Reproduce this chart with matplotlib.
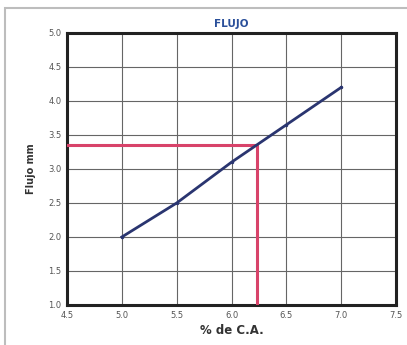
import matplotlib
matplotlib.use("Agg")
import matplotlib.pyplot as plt
from matplotlib.patches import Rectangle

ca_pct = [5.0, 5.5, 6.0, 6.5, 7.0]
flujo_mm = [2.0, 2.5, 3.1, 3.65, 4.2]
opt_ca = 6.23
opt_flujo = 3.35
x_ticks = [4.5, 5.0, 5.5, 6.0, 6.5, 7.0, 7.5]
y_ticks = [1.0, 1.5, 2.0, 2.5, 3.0, 3.5, 4.0, 4.5, 5.0]

fig = plt.figure(figsize=(4.07, 3.45), dpi=100)
fig.patches.append(Rectangle((5/407, -0.05), 1.1, 1 - 8/345 + 0.05, transform=fig.transFigure,
                             fill=False, edgecolor="#bdbdbd", linewidth=1.5))
ax = fig.add_axes([67/407, 1 - 305/345, (396 - 67)/407, (305 - 33)/345])

ax.plot(ca_pct, flujo_mm, color="#2a3570", linewidth=2.0, marker="o", markersize=1.5, zorder=4)
ax.plot([x_ticks[0], opt_ca, opt_ca], [opt_flujo, opt_flujo, y_ticks[0]],
        color="#d8436a", linewidth=2.2, zorder=3)

ax.set_xlim(4.5, 7.5)
ax.set_ylim(1.0, 5.0)
ax.set_xticks(x_ticks)
ax.set_yticks(y_ticks)
ax.set_xticklabels([f"{v:.1f}" for v in x_ticks])
ax.set_yticklabels([f"{v:.1f}" for v in y_ticks])
ax.grid(True, color="#666666", linewidth=0.8)
ax.set_axisbelow(True)
for s in ax.spines.values():
    s.set_linewidth(2.2)
    s.set_color("#222222")
ax.tick_params(length=0, labelsize=6, labelcolor="#555555", pad=4)
ax.set_xlabel("% de C.A.", fontsize=8.5, fontweight="bold", color="#333333", labelpad=3)
ax.set_ylabel("Flujo mm", fontsize=7, fontweight="bold", color="#333333", labelpad=9)
ax.set_title("FLUJO", fontsize=7.5, fontweight="bold", color="#2a4f9a", pad=4)

fig.savefig("out.png", dpi=100)
